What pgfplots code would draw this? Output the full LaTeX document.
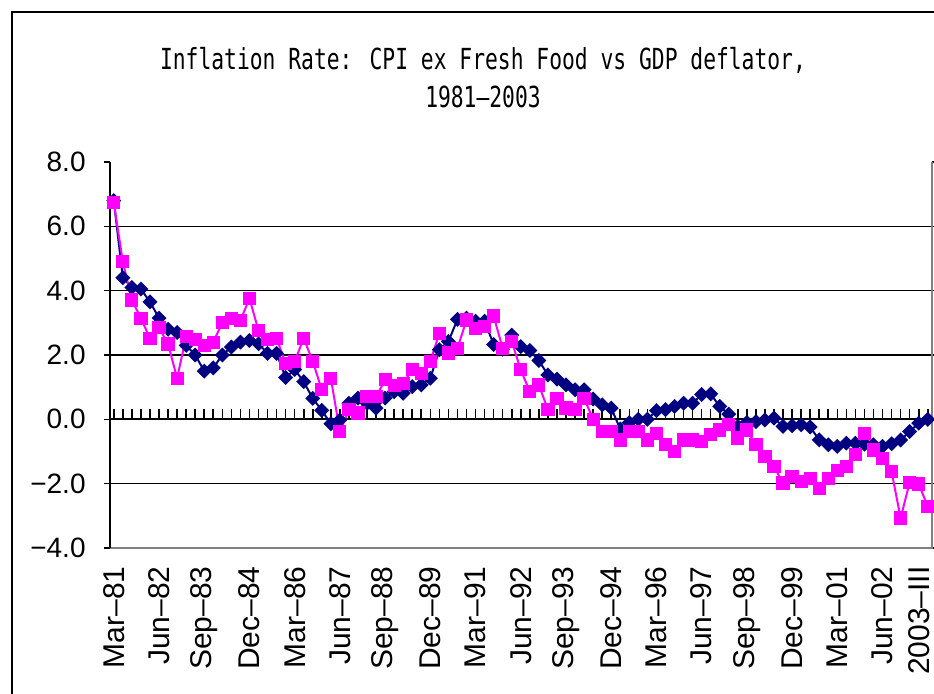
\documentclass[border=0pt]{standalone}
\usepackage{fontspec}
\setmainfont{Liberation Sans}
\newfontfamily\titlefont[FakeStretch=0.735]{DejaVu Sans Mono}
\usepackage{pgfplots}
\pgfplotsset{compat=1.18}

\definecolor{cpinavy}{RGB}{0,0,128}
\definecolor{gdpmag}{RGB}{255,0,255}

% quarterly y/y rates, Mar-81 (q=0) .. 2003-III (q=90)
\pgfplotstableread{
q cpi gdp
0 6.8 6.73
1 4.4 4.90
2 4.1 3.71
3 4.05 3.14
4 3.65 2.52
5 3.15 2.85
6 2.8 2.34
7 2.7 1.28
8 2.3 2.57
9 2.0 2.47
10 1.5 2.29
11 1.6 2.40
12 2.0 3.01
13 2.25 3.14
14 2.4 3.07
15 2.45 3.76
16 2.35 2.76
17 2.05 2.47
18 2.05 2.52
19 1.3 1.74
20 1.55 1.80
21 1.17 2.52
22 0.65 1.80
23 0.28 0.92
24 -0.14 1.28
25 -0.02 -0.38
26 0.5 0.30
27 0.66 0.20
28 0.5 0.70
29 0.35 0.70
30 0.66 1.23
31 0.86 1.04
32 0.81 1.12
33 1.02 1.54
34 1.07 1.43
35 1.28 1.80
36 2.16 2.68
37 2.42 2.06
38 3.11 2.21
39 3.15 3.09
40 3.05 2.83
41 3.05 2.88
42 2.33 3.21
43 2.18 2.21
44 2.62 2.42
45 2.26 1.54
46 2.14 0.86
47 1.83 1.07
48 1.38 0.30
49 1.25 0.66
50 1.07 0.35
51 0.92 0.30
52 0.92 0.66
53 0.63 0.0
54 0.45 -0.38
55 0.35 -0.38
56 -0.3 -0.64
57 -0.1 -0.38
58 0.0 -0.38
59 0.0 -0.64
60 0.27 -0.43
61 0.30 -0.79
62 0.40 -1.0
63 0.5 -0.64
64 0.5 -0.64
65 0.77 -0.69
66 0.79 -0.48
67 0.4 -0.33
68 0.16 -0.17
69 -0.22 -0.58
70 -0.1 -0.33
71 -0.07 -0.79
72 -0.02 -1.15
73 0.04 -1.47
74 -0.22 -1.98
75 -0.20 -1.78
76 -0.17 -1.93
77 -0.24 -1.83
78 -0.64 -2.14
79 -0.79 -1.83
80 -0.84 -1.59
81 -0.74 -1.47
82 -0.74 -1.10
83 -0.77 -0.43
84 -0.79 -0.95
85 -0.84 -1.21
86 -0.76 -1.62
87 -0.64 -3.07
88 -0.38 -1.96
89 -0.12 -2.01
90 0.0 -2.71
}\ratedata

\begin{document}
\begin{tikzpicture}[x=1pt,y=1pt]
\useasboundingbox (0,0) rectangle (467,346.5);
% chart area frame (only left and top edges fall inside the picture)
\draw[line width=1pt] (6,-10) -- (6,340.5) -- (480,340.5);

\node[font=\titlefont\fontsize{14.5}{16}\selectfont] at (241.5,316.5)
  {Inflation Rate: CPI ex Fresh Food vs GDP deflator,};
\node[font=\titlefont\fontsize{14.5}{16}\selectfont] at (241.5,298)
  {1981–2003};

\begin{axis}[
  at={(55pt,72.5pt)}, anchor=south west,
  scale only axis, width=411pt, height=193pt,
  xmin=-0.42, xmax=90.47, ymin=-4, ymax=8,
  axis line style={draw=none},
  xtick={0,5,...,85},
  xticklabels={Mar–81,Jun–82,Sep–83,Dec–84,Mar–86,Jun–87,Sep–88,Dec–89,Mar–91,Jun–92,Sep–93,Dec–94,Mar–96,Jun–97,Sep–98,Dec–99,Mar–01,Jun–02},
  extra x ticks={90},
  extra x tick labels={2003–III},
  extra x tick style={xticklabel style={yshift=4.5pt}},
  xtick style={draw=none},
  xticklabel style={font=\fontsize{15}{17}\selectfont, yshift=-6pt, rotate=90, anchor=east, inner sep=0pt},
  ytick={-4,-2,...,8},
  yticklabels={−4.0,−2.0,0.0,2.0,4.0,6.0,8.0},
  ytick style={black, line width=0.7pt},
  tick align=outside, major tick length=3pt,
  yticklabel style={font=\fontsize{14}{16}\selectfont, anchor=east, inner sep=0pt, xshift=-9pt},
  clip=false,
]
% gridlines
\pgfplotsinvokeforeach{-2,2,4,6}{
  \draw[black, line width=0.65pt] (axis cs:-0.42,#1) -- (axis cs:90.47,#1);
}
% plot area border (right and bottom) and left axis
\draw[gray, line width=0.8pt] (rel axis cs:0,0) -- (rel axis cs:1,0) -- (rel axis cs:1,1);
\draw[black, line width=1pt] (rel axis cs:0,0) -- (rel axis cs:0,1);
% zero line with a tick at every quarter
\draw[black, line width=1pt] (axis cs:-0.42,0) -- (axis cs:90.47,0);
\pgfplotsinvokeforeach{0,...,90}{
  \draw[black, line width=0.8pt] (axis cs:#1,0) -- ([yshift=5pt]axis cs:#1,0);
}

\addplot[cpinavy, line width=1pt, mark=square*, mark size=2.15pt,
  mark options={rotate=45, fill=cpinavy, draw=cpinavy}]
  table[x=q, y=cpi] {\ratedata};
\addplot[gdpmag, line width=1pt, mark=square*, mark size=2.8pt,
  mark options={fill=gdpmag, draw=gdpmag}]
  table[x=q, y=gdp] {\ratedata};
\end{axis}
\end{tikzpicture}
\end{document}
